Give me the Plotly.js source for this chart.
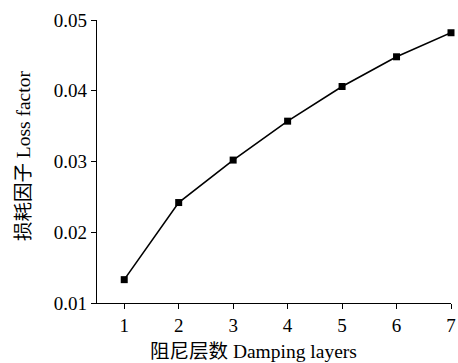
<!DOCTYPE html>
<html>
<head>
<meta charset="utf-8">
<script src="https://cdn.plot.ly/plotly-3.0.1.min.js"></script>
<style>html,body{margin:0;padding:0;background:#fff;}#chart{width:458px;height:363px;}</style>
</head>
<body>
<div id="chart"></div>
<script>
// Loss factor versus number of damping layers
const layers = [1, 2, 3, 4, 5, 6, 7];
const lossFactor = [0.0133, 0.0242, 0.0302, 0.0357, 0.0406, 0.0448, 0.0482];
const yTicks = [0.01, 0.02, 0.03, 0.04, 0.05];
const yTickText = ['0.01', '0.02', '0.03', '0.04', '0.05'];
const xTitle = '阻尼层数 Damping layers';
const yTitle = '损耗因子 Loss factor';

const fontFamily = '"Liberation Serif", "Times New Roman", "Noto Sans CJK SC", serif';
const titleFont = {family: fontFamily, size: 19.5, color: '#000'};

const trace = {
  x: layers,
  y: lossFactor,
  type: 'scatter',
  mode: 'lines+markers',
  line: {color: '#000', width: 1.6},
  marker: {symbol: 'square', size: 7, color: '#000'},
  cliponaxis: false,
  hoverinfo: 'skip'
};

const axisStyle = {
  ticks: 'outside',
  ticklen: 5,
  tickwidth: 1,
  tickcolor: '#000',
  showline: true,
  linecolor: '#000',
  linewidth: 1.3,
  showgrid: false,
  zeroline: false,
  tickfont: {family: fontFamily, size: 19, color: '#000'}
};

const layout = {
  width: 458,
  height: 363,
  margin: {l: 97, r: 7, t: 20, b: 60},
  paper_bgcolor: '#fff',
  plot_bgcolor: '#fff',
  showlegend: false,
  font: {family: fontFamily, color: '#000', size: 19},
  xaxis: Object.assign({range: [0.5, 7], tickvals: layers, ticktext: layers.map(String)}, axisStyle),
  yaxis: Object.assign({range: [0.01, 0.05], tickvals: yTicks, ticktext: yTickText}, axisStyle),
  // axis titles placed as annotations so they can sit slightly off-centre
  annotations: [
    {
      text: xTitle, showarrow: false, font: titleFont,
      xref: 'paper', yref: 'paper', x: 0.4435, y: 0,
      xanchor: 'center', yanchor: 'middle', yshift: -48
    },
    {
      text: yTitle, showarrow: false, font: titleFont, textangle: -90,
      xref: 'paper', yref: 'paper', x: 0, y: 0.519,
      xanchor: 'center', yanchor: 'middle', xshift: -74
    }
  ]
};

Plotly.newPlot('chart', [trace], layout, {displayModeBar: false, staticPlot: true});
</script>
</body>
</html>
